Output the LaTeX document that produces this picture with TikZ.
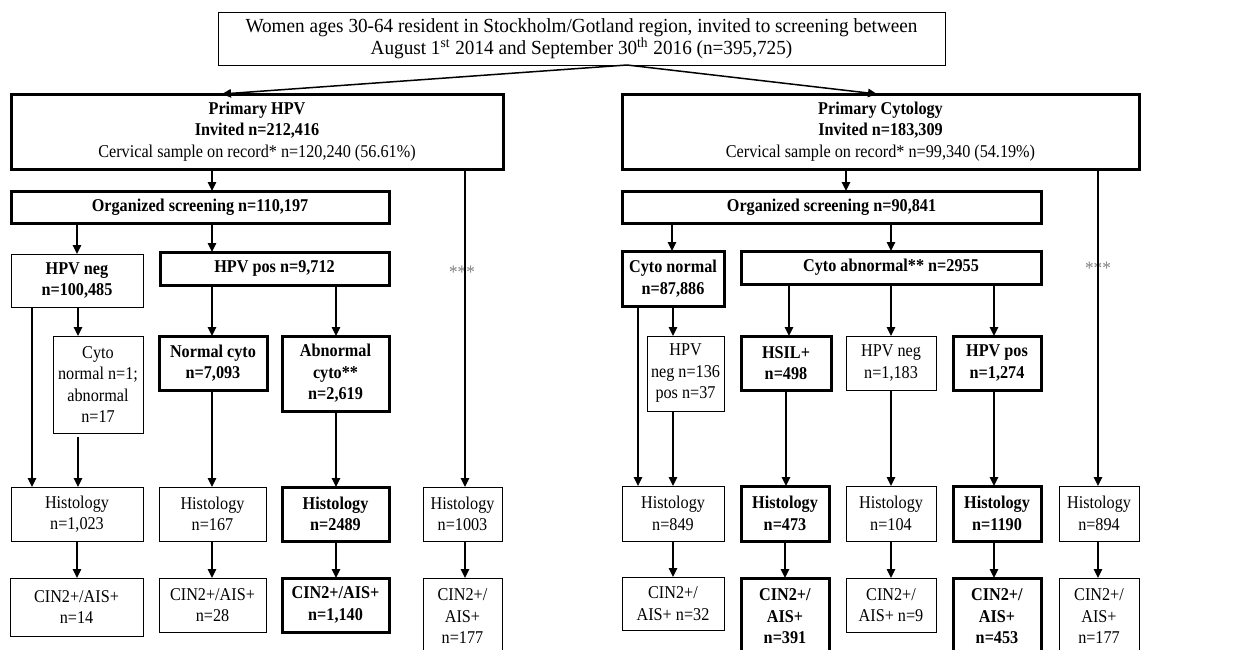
\documentclass[tikz,border=0pt]{standalone}
\usepackage{fontspec}
\setmainfont{Liberation Serif}[FakeStretch=0.9]
\newfontfamily\topfont{Liberation Serif}[FakeStretch=0.96]
\usetikzlibrary{arrows.meta}
\begin{document}
\begin{tikzpicture}[x=0.5pt,y=-0.5pt,
  every node/.style={font=\fontsize{9}{10.75}\selectfont, align=center, inner sep=0pt, outer sep=0pt},
  bx/.style 2 args={draw, line width=0.5pt, minimum width=#1*0.5pt, minimum height=#2*0.5pt},
  tbx/.style 2 args={draw, line width=1.5pt, minimum width=#1*0.5pt, minimum height=#2*0.5pt},
  arr/.style={line width=0.75pt, -{Triangle[length=4.5pt,width=4.2pt]}},
  stars/.style={text=gray, font=\fontsize{9.5}{10}\selectfont}
]
\useasboundingbox (0,0) rectangle (1240,649);
% star labels (drawn first, lines pass over them)
\node[stars] (sL) at (462,272) {***};
\node[stars] (sR) at (1098,268) {***};
% top
\node[bx={727}{53}, font=\topfont\fontsize{10}{11}\selectfont] (top) at (581.5,38.5) {Women ages 30-64 resident in Stockholm/Gotland region, invited to screening between\\ August 1\textsuperscript{st} 2014 and September 30\textsuperscript{th} 2016 (n=395,725)};
\node[tbx={492}{75}] (pH) at (257,131.5) {\textbf{Primary HPV}\\ \textbf{Invited n=212,416}\\ Cervical sample on record* n=120,240 (56.61\%)};
\node[tbx={517}{75}] (pC) at (880.5,131.5) {\textbf{Primary Cytology}\\ \textbf{Invited n=183,309}\\ Cervical sample on record* n=99,340 (54.19\%)};
\node[tbx={378}{32}] (oH) at (200,207) {\textbf{Organized screening n=110,197}};
\node[tbx={419}{32}] (oC) at (831.5,207) {\textbf{Organized screening n=90,841}};
% left branch
\node[bx={132}{53}] (hneg) at (77,280.5) {\textbf{HPV neg}\\ \textbf{n=100,485}};
\node[tbx={229}{33}] (hpos) at (274.5,268.5) {\textbf{HPV pos n=9,712}};
\node[bx={90}{97}] (cn1) at (98,384.5) {Cyto\\ normal n=1;\\ abnormal\\ n=17};
\node[tbx={108}{54}] (ncy) at (213,363) {\textbf{Normal cyto}\\ \textbf{n=7,093}};
\node[tbx={107}{75}] (acy) at (335.5,373.5) {\textbf{Abnormal}\\ \textbf{cyto**}\\ \textbf{n=2,619}};
\node[bx={132}{54}] (h1) at (77,514) {Histology\\ n=1,023};
\node[bx={107}{54}] (h2) at (212.5,514) {Histology\\ n=167};
\node[tbx={107}{54}] (h3) at (335.5,514) {\textbf{Histology}\\ \textbf{n=2489}};
\node[bx={79}{54}] (h4) at (462.5,514) {Histology\\ n=1003};
\node[bx={133}{58}] (c1) at (76.5,607) {CIN2+/AIS+\\ n=14};
\node[bx={107}{54}] (c2) at (212.5,605) {CIN2+/AIS+\\ n=28};
\node[tbx={107}{54}] (c3) at (335.5,605) {\textbf{CIN2+/AIS+}\\ \textbf{n=1,140}};
\node[bx={79}{77}] (c4) at (462.5,616.5) {CIN2+/\\ AIS+\\ n=177};
% right branch
\node[tbx={102}{55}] (cnorm) at (673,278.5) {\textbf{Cyto normal}\\ \textbf{n=87,886}};
\node[tbx={300}{33}] (cab) at (891,267.5) {\textbf{Cyto abnormal** n=2955}};
\node[bx={77}{75}] (hpvb) at (685.5,373.5) {HPV\\ neg n=136\\ pos n=37};
\node[tbx={90}{54}] (hsil) at (786,363) {\textbf{HSIL+}\\ \textbf{n=498}};
\node[bx={90}{54}] (hneg2) at (891,363) {HPV neg\\ n=1,183};
\node[tbx={88}{54}] (hpos2) at (997,363) {\textbf{HPV pos}\\ \textbf{n=1,274}};
\node[bx={102}{55}] (rh1) at (673,513.5) {Histology\\ n=849};
\node[tbx={88}{55}] (rh2) at (785,513.5) {\textbf{Histology}\\ \textbf{n=473}};
\node[bx={90}{55}] (rh3) at (891,513.5) {Histology\\ n=104};
\node[tbx={88}{55}] (rh4) at (997,513.5) {\textbf{Histology}\\ \textbf{n=1190}};
\node[bx={80}{55}] (rh5) at (1099,513.5) {Histology\\ n=894};
\node[bx={102}{53}] (rc1) at (673,603.5) {CIN2+/\\ AIS+ n=32};
\node[tbx={88}{77}] (rc2) at (785,616.5) {\textbf{CIN2+/}\\ \textbf{AIS+}\\ \textbf{n=391}};
\node[bx={90}{54}] (rc3) at (891,605) {CIN2+/\\ AIS+ n=9};
\node[tbx={88}{77}] (rc4) at (997,616.5) {\textbf{CIN2+/}\\ \textbf{AIS+}\\ \textbf{n=453}};
\node[bx={80}{77}] (rc5) at (1099,616.5) {CIN2+/\\ AIS+\\ n=177};
% connectors
\coordinate (ts) at (627,65);
\draw[arr] (ts) -- (pH.north -| 222,0);
\draw[arr] (ts) -- (pC.north -| 877,0);
\draw[arr] (pH.south -| 212,0) -- (oH.north -| 212,0);
\draw[arr] (pH.south -| 465,0) -- (h4.north -| 465,0);
\draw[arr] (pC.south -| 846,0) -- (oC.north -| 846,0);
\draw[arr] (pC.south -| 1098,0) -- (rh5.north -| 1098,0);
\draw[arr] (oH.south -| hneg) -- (hneg.north);
\draw[arr] (oH.south -| 212,0) -- (hpos.north -| 212,0);
\draw[arr] (hneg.south -| 32,0) -- (h1.north -| 32,0);
\draw[arr] (hneg.south -| 78,0) -- (cn1.north -| 78,0);
\draw[arr,shorten <=2pt] (cn1.south -| 78,0) -- (h1.north -| 78,0);
\draw[arr] (hpos.south -| 212,0) -- (ncy.north -| 212,0);
\draw[arr] (hpos.south -| 336,0) -- (acy.north -| 336,0);
\draw[arr] (ncy.south -| 212,0) -- (h2.north -| 212,0);
\draw[arr] (acy.south -| 336,0) -- (h3.north -| 336,0);
\draw[arr] (h1.south -| 77,0) -- (c1.north -| 77,0);
\draw[arr] (h2.south -| 212,0) -- (c2.north -| 212,0);
\draw[arr] (h3.south -| 336,0) -- (c3.north -| 336,0);
\draw[arr] (h4.south -| 465,0) -- (c4.north -| 465,0);
\draw[arr] (oC.south -| 672,0) -- (cnorm.north -| 672,0);
\draw[arr] (oC.south -| 891,0) -- (cab.north -| 891,0);
\draw[arr] (cnorm.south -| 638,0) -- (rh1.north -| 638,0);
\draw[arr] (cnorm.south -| 673,0) -- (hpvb.north -| 673,0);
\draw[arr] (hpvb.south -| 673,0) -- (rh1.north -| 673,0);
\draw[arr] (cab.south -| 789,0) -- (hsil.north -| 789,0);
\draw[arr] (cab.south -| 891,0) -- (hneg2.north -| 891,0);
\draw[arr] (cab.south -| 994,0) -- (hpos2.north -| 994,0);
\draw[arr] (hsil.south -| 786,0) -- (rh2.north -| 786,0);
\draw[arr] (hneg2.south -| 891,0) -- (rh3.north -| 891,0);
\draw[arr] (hpos2.south -| 994,0) -- (rh4.north -| 994,0);
\draw[arr] (rh1.south -| 673,0) -- (rc1.north -| 673,0);
\draw[arr] (rh2.south -| 785,0) -- (rc2.north -| 785,0);
\draw[arr] (rh3.south -| 891,0) -- (rc3.north -| 891,0);
\draw[arr] (rh4.south -| 994,0) -- (rc4.north -| 994,0);
\draw[arr] (rh5.south -| 1098,0) -- (rc5.north -| 1098,0);
\end{tikzpicture}
\end{document}
